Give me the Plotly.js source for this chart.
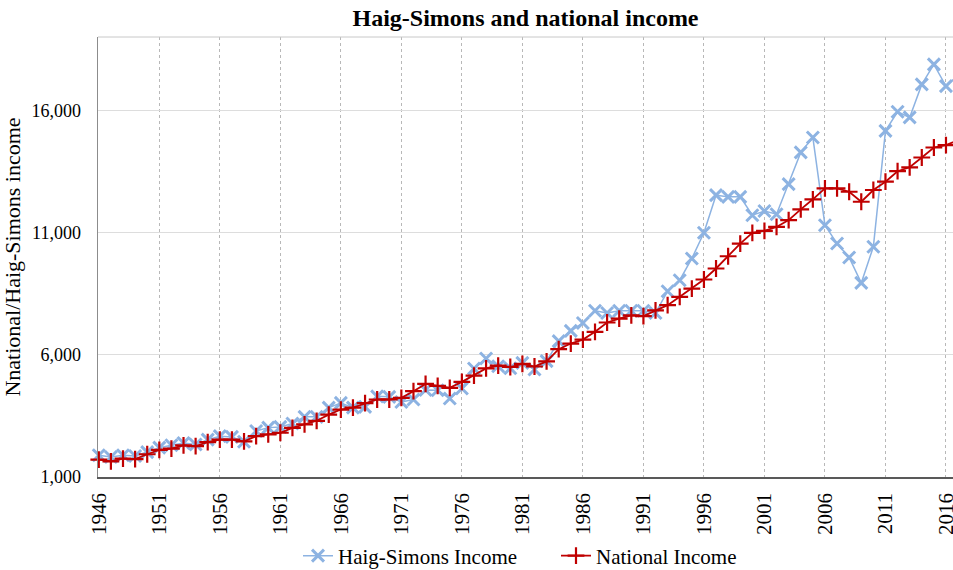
<!DOCTYPE html>
<html>
<head>
<meta charset="utf-8">
<script src="https://cdn.plot.ly/plotly-3.0.1.min.js"></script>
<style>html,body{margin:0;padding:0;background:#fff;}#chart{width:953px;height:570px;}</style>
</head>
<body>
<div id="chart"></div>
<script>
const years = [1946,1947,1948,1949,1950,1951,1952,1953,1954,1955,1956,1957,1958,1959,1960,1961,1962,1963,1964,1965,1966,1967,1968,1969,1970,1971,1972,1973,1974,1975,1976,1977,1978,1979,1980,1981,1982,1983,1984,1985,1986,1987,1988,1989,1990,1991,1992,1993,1994,1995,1996,1997,1998,1999,2000,2001,2002,2003,2004,2005,2006,2007,2008,2009,2010,2011,2012,2013,2014,2015,2016,2017];

const haigSimons = [1890,1820,1890,1860,2020,2200,2300,2390,2330,2530,2670,2640,2440,2880,3020,3050,3190,3460,3460,3840,4030,3840,3870,4300,4280,4070,4170,4560,4550,4210,4620,5440,5850,5530,5450,5670,5400,5740,6560,6980,7300,7800,7710,7800,7800,7800,7710,8600,9050,9940,10990,12530,12460,12460,11710,11880,11750,12980,14280,14890,11300,10550,9980,8940,10420,15160,15940,15710,17060,17880,16990,17440];

const nationalIncome = [1710,1640,1750,1730,1930,2110,2160,2290,2260,2430,2530,2530,2460,2670,2740,2810,3010,3150,3300,3550,3760,3840,4020,4170,4170,4240,4510,4810,4730,4650,4890,5150,5440,5560,5500,5630,5520,5730,6230,6460,6620,6940,7320,7480,7610,7580,7820,8030,8370,8710,9080,9530,10030,10550,10990,11070,11230,11510,11950,12360,12810,12810,12670,12260,12740,13080,13510,13670,14070,14480,14580,14780];

const xTickVals = [1946,1951,1956,1961,1966,1971,1976,1981,1986,1991,1996,2001,2006,2011,2016];
const yTickVals = [1000,6000,11000,16000];

const serif = '"Liberation Serif", "Times New Roman", serif';

const traces = [
  {
    x: years, y: haigSimons, name: 'Haig-Simons Income',
    type: 'scatter', mode: 'lines+markers', cliponaxis: false,
    line: {color: '#8db3e2', width: 1.5},
    marker: {symbol: 'x-thin', size: 12, color: '#8db3e2', line: {color: '#8db3e2', width: 3}}
  },
  {
    x: years, y: nationalIncome, name: 'National Income',
    type: 'scatter', mode: 'lines+markers', cliponaxis: false,
    line: {color: '#c00000', width: 1.8},
    marker: {symbol: 'cross-thin', size: 12, color: '#c00000', line: {color: '#c00000', width: 2.2}}
  }
];

const layout = {
  width: 953, height: 570,
  margin: {l: 98, r: 0, t: 37, b: 93, pad: 0},
  paper_bgcolor: '#ffffff', plot_bgcolor: '#ffffff',
  font: {family: serif, color: '#000000'},
  title: {
    text: '<b>Haig-Simons and national income</b>',
    font: {family: serif, size: 24, color: '#000000'},
    x: 0.5, xref: 'paper', xanchor: 'center',
    y: 0.970, yref: 'container', yanchor: 'middle'
  },
  xaxis: {
    type: 'linear', range: [1945.934, 2016.58],
    tickmode: 'array', tickvals: xTickVals, ticktext: xTickVals.map(String),
    tickangle: -90, tickfont: {family: serif, size: 21, color: '#000000'},
    ticks: '', ticklabelstandoff: 6, ticklabeloverflow: 'allow',
    showgrid: true, gridcolor: '#b8b8b8', griddash: 'dot', gridwidth: 1,
    showline: true, linecolor: '#595959', linewidth: 1.5,
    zeroline: false, fixedrange: true
  },
  yaxis: {
    range: [1000, 19000],
    tickmode: 'array', tickvals: yTickVals, tickformat: ',d',
    tickfont: {family: serif, size: 18, color: '#000000'},
    ticks: '', ticklabelstandoff: 12,
    showgrid: true, gridcolor: '#dddddd', gridwidth: 1,
    showline: true, linecolor: '#8c8c8c', linewidth: 1.5,
    zeroline: false, fixedrange: true,
    title: {text: 'Nnational/Haig-Simons income', font: {family: serif, size: 22, color: '#000000'}, standoff: 5}
  },
  shapes: [
    {type: 'line', xref: 'paper', yref: 'paper', x0: 0, x1: 1, y0: 1, y1: 1, line: {color: '#c8c8c8', width: 1}}
  ],
  showlegend: true,
  legend: {
    orientation: 'h', x: 298/953, xref: 'container', xanchor: 'left',
    y: 0.0246, yref: 'container', yanchor: 'middle',
    font: {family: serif, size: 21, color: '#000000'},
    bgcolor: 'rgba(0,0,0,0)', itemwidth: 30, traceorder: 'normal',
    entrywidth: 213, entrywidthmode: 'pixels'
  },
  hovermode: false
};

Plotly.newPlot('chart', traces, layout, {displayModeBar: false, staticPlot: true});
</script>
</body>
</html>
